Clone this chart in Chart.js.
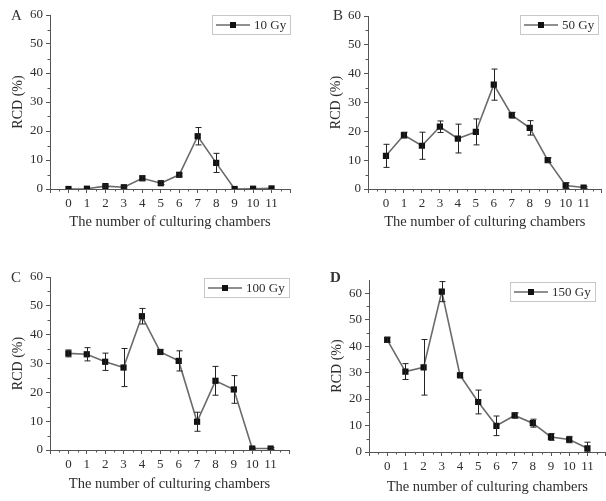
<!DOCTYPE html>
<html><head><meta charset="utf-8">
<script src="https://cdn.jsdelivr.net/npm/chart.js@4/dist/chart.umd.min.js"></script>
<style>
html,body{margin:0;padding:0;background:#fff;overflow:hidden;width:606px;height:501px;position:relative;}
canvas{position:absolute;}
.letter{position:absolute;font-family:'Liberation Serif',serif;font-size:15px;color:#333;line-height:1;}
</style></head><body>
<canvas id="cA" width="300" height="250" style="left:0px;top:0px"></canvas>
<canvas id="cB" width="288" height="250" style="left:318px;top:0px"></canvas>
<canvas id="cC" width="300" height="251" style="left:0px;top:250px"></canvas>
<canvas id="cD" width="291" height="251" style="left:319px;top:250px"></canvas>
<div class="letter" style="left:11px;top:8px">A</div>
<div class="letter" style="left:333px;top:8px">B</div>
<div class="letter" style="left:11px;top:270px">C</div>
<div class="letter" style="left:330px;top:270px;font-weight:bold">D</div>
<script>
// ---- data ----
const chambers = [0,1,2,3,4,5,6,7,8,9,10,11];
const rcd10Gy  = [0,0.1,1,0.6,3.7,2,4.9,18.2,9,0,0.1,0.2];
const err10Gy  = [0,0,0.4,0.3,0.8,0.5,0.5,3,3.3,0,0,0];
const rcd50Gy  = [11.5,18.7,15,21.6,17.5,19.8,36.2,25.6,21.2,10,1.2,0.5];
const err50Gy  = [4,1,4.7,2,5,4.5,5.4,1,2.5,0.8,1,0.3];
const rcd100Gy = [33.5,33.2,30.6,28.6,46.4,34,30.9,9.8,24,21,0.5,0.5];
const err100Gy = [1.2,2.3,3,6.6,2.7,0.8,3.5,3.3,5,4.8,0.3,0.3];
const rcd150Gy = [42.4,30.4,32,60.6,29,18.9,9.9,13.8,10.9,5.7,4.7,1.4];
const err150Gy = [1,3,10.5,3.8,1,4.5,3.7,1,1.5,1.3,1.2,2.3];
const seriesLabels = ['10 Gy','50 Gy','100 Gy','150 Gy'];
const yAxisMax = [60,60,60,65];
const xAxisTitle = 'The number of culturing chambers';
const yAxisTitle = 'RCD (%)';

const FONT = "'Liberation Serif', 'Times New Roman', serif";
const AXIS = '#555';
const TXT = '#2e2e2e';

const errorBars = {
  id:'errorBars',
  afterDatasetsDraw(chart){
    const ctx = chart.ctx, xs = chart.scales.x, ys = chart.scales.y;
    const ds = chart.data.datasets[0];
    ctx.save();
    ctx.strokeStyle = '#222'; ctx.lineWidth = 1;
    ds.data.forEach((p,i)=>{
      const e = ds.errors[i];
      if(!e) return;
      const x = Math.round(xs.getPixelForValue(p.x))+0.5;
      const y1 = ys.getPixelForValue(Math.max(0,p.y-e));
      const y2 = ys.getPixelForValue(p.y+e);
      ctx.beginPath();
      ctx.moveTo(x,y1); ctx.lineTo(x,y2);
      ctx.moveTo(x-3,y1); ctx.lineTo(x+3,y1);
      ctx.moveTo(x-3,y2); ctx.lineTo(x+3,y2);
      ctx.stroke();
    });
    ctx.restore();
  }
};

const minorTicks = {
  id:'minorTicks',
  afterDraw(chart){
    const ctx = chart.ctx, xs = chart.scales.x, ys = chart.scales.y, ca = chart.chartArea;
    ctx.save();
    ctx.strokeStyle = AXIS; ctx.lineWidth = 1;
    ctx.beginPath();
    for(let v=xs.min+0.5; v<xs.max; v+=1){
      const x = Math.round(xs.getPixelForValue(v))+0.5;
      ctx.moveTo(x,ca.bottom); ctx.lineTo(x,ca.bottom+2.5);
    }
    for(let v=5; v<ys.max; v+=10){
      const y = Math.round(ys.getPixelForValue(v))+0.5;
      ctx.moveTo(ca.left,y); ctx.lineTo(ca.left-2.5,y);
    }
    ctx.stroke();
    ctx.restore();
  }
};

const legendBox = {
  id:'legendBox',
  afterDraw(chart, args, opts){
    const ctx = chart.ctx, ca = chart.chartArea;
    const ds = chart.data.datasets[0];
    ctx.save();
    ctx.font = '13px ' + FONT;
    const tw = ctx.measureText(ds.label).width;
    const w = Math.round(4+34+4+tw+4), h = 19;
    const x1 = Math.round(ca.right - opts.inset - w), y1 = Math.round(ca.top + opts.top);
    ctx.strokeStyle = '#c8c8c8'; ctx.lineWidth = 1;
    ctx.strokeRect(x1+0.5, y1+0.5, w, h);
    const ly = y1 + h/2 + 0.5;
    ctx.strokeStyle = ds.borderColor; ctx.lineWidth = ds.borderWidth;
    ctx.beginPath(); ctx.moveTo(x1+4, ly); ctx.lineTo(x1+38, ly); ctx.stroke();
    ctx.fillStyle = '#111'; ctx.fillRect(x1+21-3, ly-3, 6, 6);
    ctx.fillStyle = TXT; ctx.textBaseline = 'middle'; ctx.textAlign='left';
    ctx.fillText(ds.label, x1+42, ly+1);
    ctx.restore();
  }
};

function makePanel(id, values, errors, label, ymax, layout){
  const data = chambers.map((c,i)=>({x:c, y:values[i]}));
  return new Chart(document.getElementById(id), {
    type:'line',
    data:{datasets:[{
      label, data, errors,
      borderColor:'#6a6a6a', borderWidth:1.6,
      pointStyle:'rect', pointRadius:4.4, pointHoverRadius:4.4,
      pointBackgroundColor:'#111', pointBorderColor:'#111', pointBorderWidth:0,
      tension:0
    }]},
    options:{
      responsive:false, animation:false, events:[],
      layout:{padding:layout.padding},
      plugins:{legend:{display:false}, tooltip:{enabled:false},
        legendBox:{inset:layout.legendInset, top:layout.legendTop}},
      scales:{
        x:{type:'linear', min:-1, max:12,
          afterFit(s){ s.height = layout.xh; },
          ticks:{stepSize:1, padding:3, color:TXT, font:{family:FONT, size:13},
            callback:(v)=> (v<0||v>11)?'':String(v), maxRotation:0, autoSkip:false},
          grid:{display:true, drawOnChartArea:false, drawTicks:true, tickLength:4, color:AXIS},
          border:{display:true, color:AXIS, width:1},
          title:{display:true, text:xAxisTitle, color:TXT, font:{family:FONT, size:14.5}, padding:{top:0,bottom:0}}
        },
        y:{type:'linear', min:0, max:ymax,
          afterFit(s){ s.width = 50; },
          ticks:{stepSize:10, includeBounds:false, padding:3, color:TXT, font:{family:FONT, size:13}},
          grid:{display:true, drawOnChartArea:false, drawTicks:true, tickLength:4, color:AXIS},
          border:{display:true, color:AXIS, width:1},
          title:{display:true, text:yAxisTitle, color:TXT, font:{family:FONT, size:14}, padding:{top:10,bottom:0}}
        }
      }
    },
    plugins:[errorBars, minorTicks, legendBox]
  });
}

makePanel('cA', rcd10Gy, err10Gy, seriesLabels[0], yAxisMax[0],
  {padding:{top:15,right:10,bottom:19,left:0}, xh:42, legendInset:0, legendTop:0});
makePanel('cB', rcd50Gy, err50Gy, seriesLabels[1], yAxisMax[1],
  {padding:{top:16,right:0,bottom:19,left:0}, xh:42, legendInset:4, legendTop:-1});
makePanel('cC', rcd100Gy, err100Gy, seriesLabels[2], yAxisMax[2],
  {padding:{top:27,right:11,bottom:8,left:0}, xh:43, legendInset:0, legendTop:1});
makePanel('cD', rcd150Gy, err150Gy, seriesLabels[3], yAxisMax[3],
  {padding:{top:30,right:2,bottom:5,left:0}, xh:44, legendInset:11, legendTop:2});
</script>
</body></html>
